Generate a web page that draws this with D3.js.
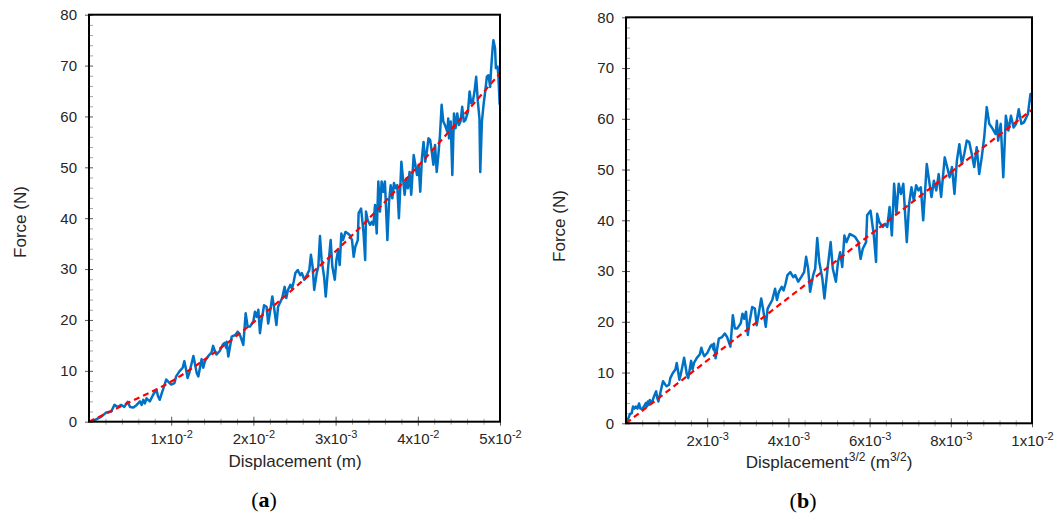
<!DOCTYPE html>
<html><head><meta charset="utf-8">
<script src="https://cdn.jsdelivr.net/npm/d3@7"></script>
<style>
body{margin:0;background:#fff}
svg{display:block}
</style>
</head><body>
<svg id="c" width="1056" height="517"></svg>
<script>
// ---- measured data (displacement in m, force in N) ----
const displacement = [
 0, 0.0007, 0.0015, 0.0021, 0.0027, 0.0031, 0.0035, 0.0039, 0.0043, 0.0047, 0.0050, 0.0054, 0.0058, 0.0062, 0.0064, 0.0066, 0.0068, 0.0070, 0.0074, 0.0078,
 0.0082, 0.0084, 0.0086, 0.0088, 0.0092, 0.0094, 0.0098, 0.0100, 0.0104, 0.0106, 0.0110, 0.0114, 0.0116, 0.0118, 0.0120, 0.0122, 0.0124, 0.0127, 0.0129, 0.0131,
 0.0133, 0.0135, 0.0137, 0.0139, 0.0141, 0.0145, 0.0149, 0.0151, 0.0153, 0.0155, 0.0159, 0.0163, 0.0165, 0.0167,
 0.01675, 0.01695, 0.01736, 0.01776, 0.01809, 0.01837, 0.01877, 0.01906, 0.0193, 0.01959, 0.01999, 0.02019, 0.0204, 0.0206, 0.0208, 0.0210, 0.0213, 0.0216, 0.0218, 0.0220,
 0.0223, 0.0225, 0.0228, 0.0230, 0.0232, 0.0235, 0.0238, 0.0240, 0.0242, 0.0245, 0.0247, 0.0249, 0.0251, 0.0254, 0.0257, 0.0259, 0.0262, 0.0265, 0.0268, 0.0270,
 0.0272, 0.0274, 0.0277, 0.0279, 0.0281, 0.0283, 0.0286, 0.0288, 0.0291, 0.0294, 0.0296, 0.0299, 0.0301, 0.0303, 0.0305, 0.0307, 0.0309, 0.0312, 0.0315, 0.0317,
 0.0320, 0.0322, 0.0324, 0.0327, 0.0328, 0.0331, 0.0332, 0.0334, 0.0336,
 0.0337, 0.0339, 0.0342, 0.0344, 0.0346, 0.0348, 0.0350, 0.0352, 0.0354, 0.0356, 0.0358, 0.0360, 0.0363, 0.0365, 0.0367, 0.0369, 0.0371, 0.0373, 0.0375, 0.0377,
 0.0379, 0.0380, 0.0382, 0.0384, 0.0386, 0.0388, 0.0390, 0.0392, 0.0395, 0.0397, 0.0399, 0.0401, 0.0403, 0.0405, 0.0407, 0.0409, 0.0411, 0.0413, 0.0415, 0.0417,
 0.0419, 0.0421, 0.0423, 0.0425, 0.0427, 0.0429, 0.0431, 0.0433, 0.0436, 0.0437, 0.0438, 0.0440, 0.0442, 0.0444, 0.0446, 0.0448, 0.0450, 0.0452, 0.0454, 0.0456,
 0.0458, 0.0461, 0.0463, 0.0465, 0.0467, 0.0469, 0.0471, 0.0473, 0.0475, 0.0476, 0.0478, 0.0480, 0.0482, 0.0484, 0.0486, 0.0488, 0.0489, 0.0491, 0.0492, 0.0494,
 0.0495, 0.0497, 0.0498, 0.04996
];
const force = [
 0, 0.3, 1.0, 1.8, 2.0, 3.3, 2.9, 3.3, 2.9, 3.9, 2.9, 2.8, 3.3, 4.0, 3.3, 4.3, 3.6, 4.6, 4.0, 5.3,
 6.3, 5.0, 4.3, 5.3, 7.3, 8.3, 7.6, 7.3, 7.6, 8.9, 9.9, 10.6, 11.9, 10.3, 8.6, 9.6, 10.9, 12.9, 11.3, 9.6,
 8.9, 10.6, 12.3, 10.6, 11.9, 12.9, 13.6, 14.9, 13.9, 13.2, 13.9, 15.2, 15.5, 14.5,
 15.7, 12.8, 16.7, 17.0, 17.7, 17.0, 15.1, 21.3, 18.7, 18.7, 19.7, 21.6, 20.6, 22.0, 17.4, 20.0, 22.9, 22.6, 19.3, 21.3,
 24.6, 22.6, 19.0, 22.6, 23.3, 24.3, 26.5, 24.3, 25.9, 26.9, 26.2, 27.5, 29.2, 29.8, 28.8, 29.2, 27.9, 28.8, 29.8, 32.8,
 30.5, 25.9, 29.2, 30.5, 36.5, 31.8, 28.5, 24.6, 30.5, 35.7, 30.5, 27.9, 31.8, 33.7, 30.8, 37.0, 35.7, 37.3, 37.0, 36.7,
 35.7, 32.4, 34.4, 35.7, 41.0, 41.9, 40.3, 37.0, 31.8,
 41.3, 39.6, 38.7, 39.3, 38.7, 42.6, 37.0, 47.2, 41.3, 47.2, 45.2, 47.2, 35.7, 43.2, 46.5, 43.9, 46.9, 45.9, 46.5, 40.0,
 47.2, 51.1, 47.8, 44.6, 47.8, 45.9, 49.1, 44.6, 52.4, 50.5, 48.5, 50.5, 45.2, 51.8, 55.0, 51.1, 53.1, 55.7, 55.4, 53.1,
 50.5, 54.4, 49.1, 52.4, 56.4, 62.3, 59.0, 58.3, 57.0, 59.6, 55.7, 59.0, 48.5, 60.6, 57.7, 60.6, 58.3, 59.0, 61.9, 59.0,
 59.3, 60.9, 64.9, 62.6, 63.0, 64.9, 67.8, 63.0, 59.6, 49.1, 59.0, 62.3, 64.9, 67.8, 68.1, 65.8, 68.8, 73.4, 75.0, 73.4,
 69.5, 69.8, 68.1, 62.3
];
// fitted curves (red dashed)
const fitDispA = [0, 0.005, 0.01, 0.015, 0.02, 0.025, 0.03, 0.035, 0.04, 0.045, 0.05];
const fitForceA = [0, 3.9, 7.9, 13.3, 19.5, 26.3, 33.5, 41.5, 50.2, 59.2, 68.5];
const fitDispB = [0, 0.01];
const fitForceB = [0, 61.8];
// ticks
const yTicks = [0, 10, 20, 30, 40, 50, 60, 70, 80];
const yMinorTicks = [2,4,6,8,12,14,16,18,22,24,26,28,32,34,36,38,42,44,46,48,52,54,56,58,62,64,66,68,72,74,76,78];
const xTicksA = [0.01, 0.02, 0.03, 0.04, 0.05];
const xMantA = ["1", "2", "3", "4", "5"];
const xExpA = ["-2", "-2", "-3", "-2", "-2"];
const xMinorA = [0.002,0.004,0.006,0.008,0.012,0.014,0.016,0.018,0.022,0.024,0.026,0.028,0.032,0.034,0.036,0.038,0.042,0.044,0.046,0.048];
const xTicksB = [0.002, 0.004, 0.006, 0.008, 0.01];
const xMantB = ["2", "4", "6", "8", "1"];
const xExpB = ["-3", "-3", "-3", "-3", "-2"];
const xMinorB = [0.0004,0.0008,0.0012,0.0016,0.0024,0.0028,0.0032,0.0036,0.0044,0.0048,0.0052,0.0056,0.0064,0.0068,0.0072,0.0076,0.0084,0.0088,0.0092,0.0096];

const FONT = '"Liberation Sans", Arial, sans-serif';
const TXT = "#262626";
const svg = d3.select("#c");
svg.append("rect").attr("width",1056).attr("height",517).attr("fill","#fff");

function styleAxis(s, color){
  s.select(".domain").remove();
  s.selectAll("line").attr("stroke", color).attr("stroke-width", 1);
  s.attr("font-family", FONT).attr("font-size", 15);
  s.selectAll("text").attr("fill", TXT);
}

function panel(o){
  const x = d3.scaleLinear().domain(o.xDomain).range([o.left, o.right]);
  const y = d3.scaleLinear().domain([0, 80]).range([o.bottom, o.top]);
  const g = svg.append("g");
  const id = "clip" + o.name;
  svg.append("defs").append("clipPath").attr("id", id)
    .append("rect").attr("x", o.left).attr("y", o.top)
    .attr("width", o.right - o.left).attr("height", o.bottom - o.top);

  g.append("g").attr("transform", `translate(${o.left},0)`)
    .call(d3.axisRight(y).tickValues(yMinorTicks).tickSize(4).tickFormat(""))
    .call(s => styleAxis(s, "#a6a6a6"));
  g.append("g").attr("transform", `translate(${o.left},0)`)
    .call(d3.axisRight(y).tickValues(yTicks).tickSize(4).tickFormat(""))
    .call(s => styleAxis(s, "#595959"));
  g.append("g").attr("transform", `translate(${o.left},0)`)
    .call(d3.axisLeft(y).tickValues(yTicks).tickSize(4).tickPadding(8))
    .call(s => styleAxis(s, "#595959"));

  g.append("g").attr("transform", `translate(0,${o.bottom})`)
    .call(d3.axisBottom(x).tickValues(o.xMinor).tickSize(3).tickFormat(""))
    .call(s => styleAxis(s, "#a6a6a6"));
  g.append("g").attr("transform", `translate(0,${o.bottom})`)
    .call(d3.axisTop(x).tickValues(o.xMinor).tickSize(3).tickFormat(""))
    .call(s => styleAxis(s, "#a6a6a6"));
  g.append("g").attr("transform", `translate(0,${o.bottom})`)
    .call(d3.axisTop(x).tickValues(o.xTicks).tickSize(5).tickFormat(""))
    .call(s => styleAxis(s, "#595959"));
  const xa = g.append("g").attr("transform", `translate(0,${o.bottom})`)
    .call(d3.axisBottom(x).tickValues(o.xTicks).tickSize(4).tickPadding(8).tickFormat(""))
    .call(s => styleAxis(s, "#595959"));
  xa.selectAll(".tick text").each(function(d, i){
    const t = d3.select(this);
    t.text(null);
    t.append("tspan").text(o.xMant[i] + "x10");
    t.append("tspan").attr("font-size", 11).attr("dy", "-0.55em").text(o.xExp[i]);
  });

  const plot = g.append("g").attr("clip-path", `url(#${id})`);
  const line = d3.line().x(p => x(p[0])).y(p => y(p[1]));
  plot.append("path")
    .attr("d", line(o.xs.map((v, i) => [v, force[i]])))
    .attr("fill", "none").attr("stroke", "#0072C6").attr("stroke-width", 2.5)
    .attr("stroke-linejoin", "round");
  const fitLine = d3.line().x(p => x(p[0])).y(p => y(p[1])).curve(d3.curveMonotoneX);
  plot.append("path")
    .attr("d", fitLine(o.fitX.map((v, i) => [v, o.fitY[i]])))
    .attr("fill", "none").attr("stroke", "#ff0000").attr("stroke-width", 2.2)
    .attr("stroke-dasharray", "6,4");

  g.append("rect").attr("x", o.left).attr("y", o.top)
    .attr("width", o.right - o.left).attr("height", o.bottom - o.top)
    .attr("fill", "none").attr("stroke", "#000").attr("stroke-width", 2);

  g.append("text")
    .attr("transform", `translate(${o.yTitleX},${o.yTitleY}) rotate(-90)`)
    .attr("text-anchor", "middle").attr("font-family", FONT).attr("font-size", 17)
    .attr("fill", TXT).text("Force (N)");

  const xt = g.append("text").attr("x", o.xTitleX).attr("y", o.xTitleY)
    .attr("text-anchor", "middle").attr("font-family", FONT).attr("font-size", 17)
    .attr("fill", TXT);
  o.xTitle.forEach(part => {
    const ts = xt.append("tspan").text(part.t);
    if (part.sup) ts.attr("font-size", 12).attr("baseline-shift", "super");
  });

  const lt = g.append("text").attr("x", o.letterX).attr("y", o.letterY)
    .attr("text-anchor", "middle").attr("font-family", '"Liberation Serif", "Times New Roman", serif')
    .attr("font-size", 22).attr("fill", "#000");
  lt.append("tspan").text("(");
  lt.append("tspan").attr("font-weight", "bold").text(o.letter);
  lt.append("tspan").text(")");
}

panel({
  name: "a", xDomain: [0, 0.05], left: 89, right: 500, top: 14.7, bottom: 421.7,
  xTicks: xTicksA, xMant: xMantA, xExp: xExpA, xMinor: xMinorA,
  xs: displacement, fitX: fitDispA, fitY: fitForceA,
  yTitleX: 26, yTitleY: 222, xTitleX: 295, xTitleY: 467,
  xTitle: [{t: "Displacement (m)"}],
  letter: "a", letterX: 264, letterY: 507
});
panel({
  name: "b", xDomain: [0, 0.01], left: 626, right: 1032, top: 17.3, bottom: 423.3,
  xTicks: xTicksB, xMant: xMantB, xExp: xExpB, xMinor: xMinorB,
  xs: displacement.map(d => Math.pow(d, 1.5)), fitX: fitDispB, fitY: fitForceB,
  yTitleX: 565, yTitleY: 226, xTitleX: 829, xTitleY: 468,
  xTitle: [{t: "Displacement"}, {t: "3/2", sup: true}, {t: " (m"}, {t: "3/2", sup: true}, {t: ")"}],
  letter: "b", letterX: 803, letterY: 508
});
</script>
</body></html>
